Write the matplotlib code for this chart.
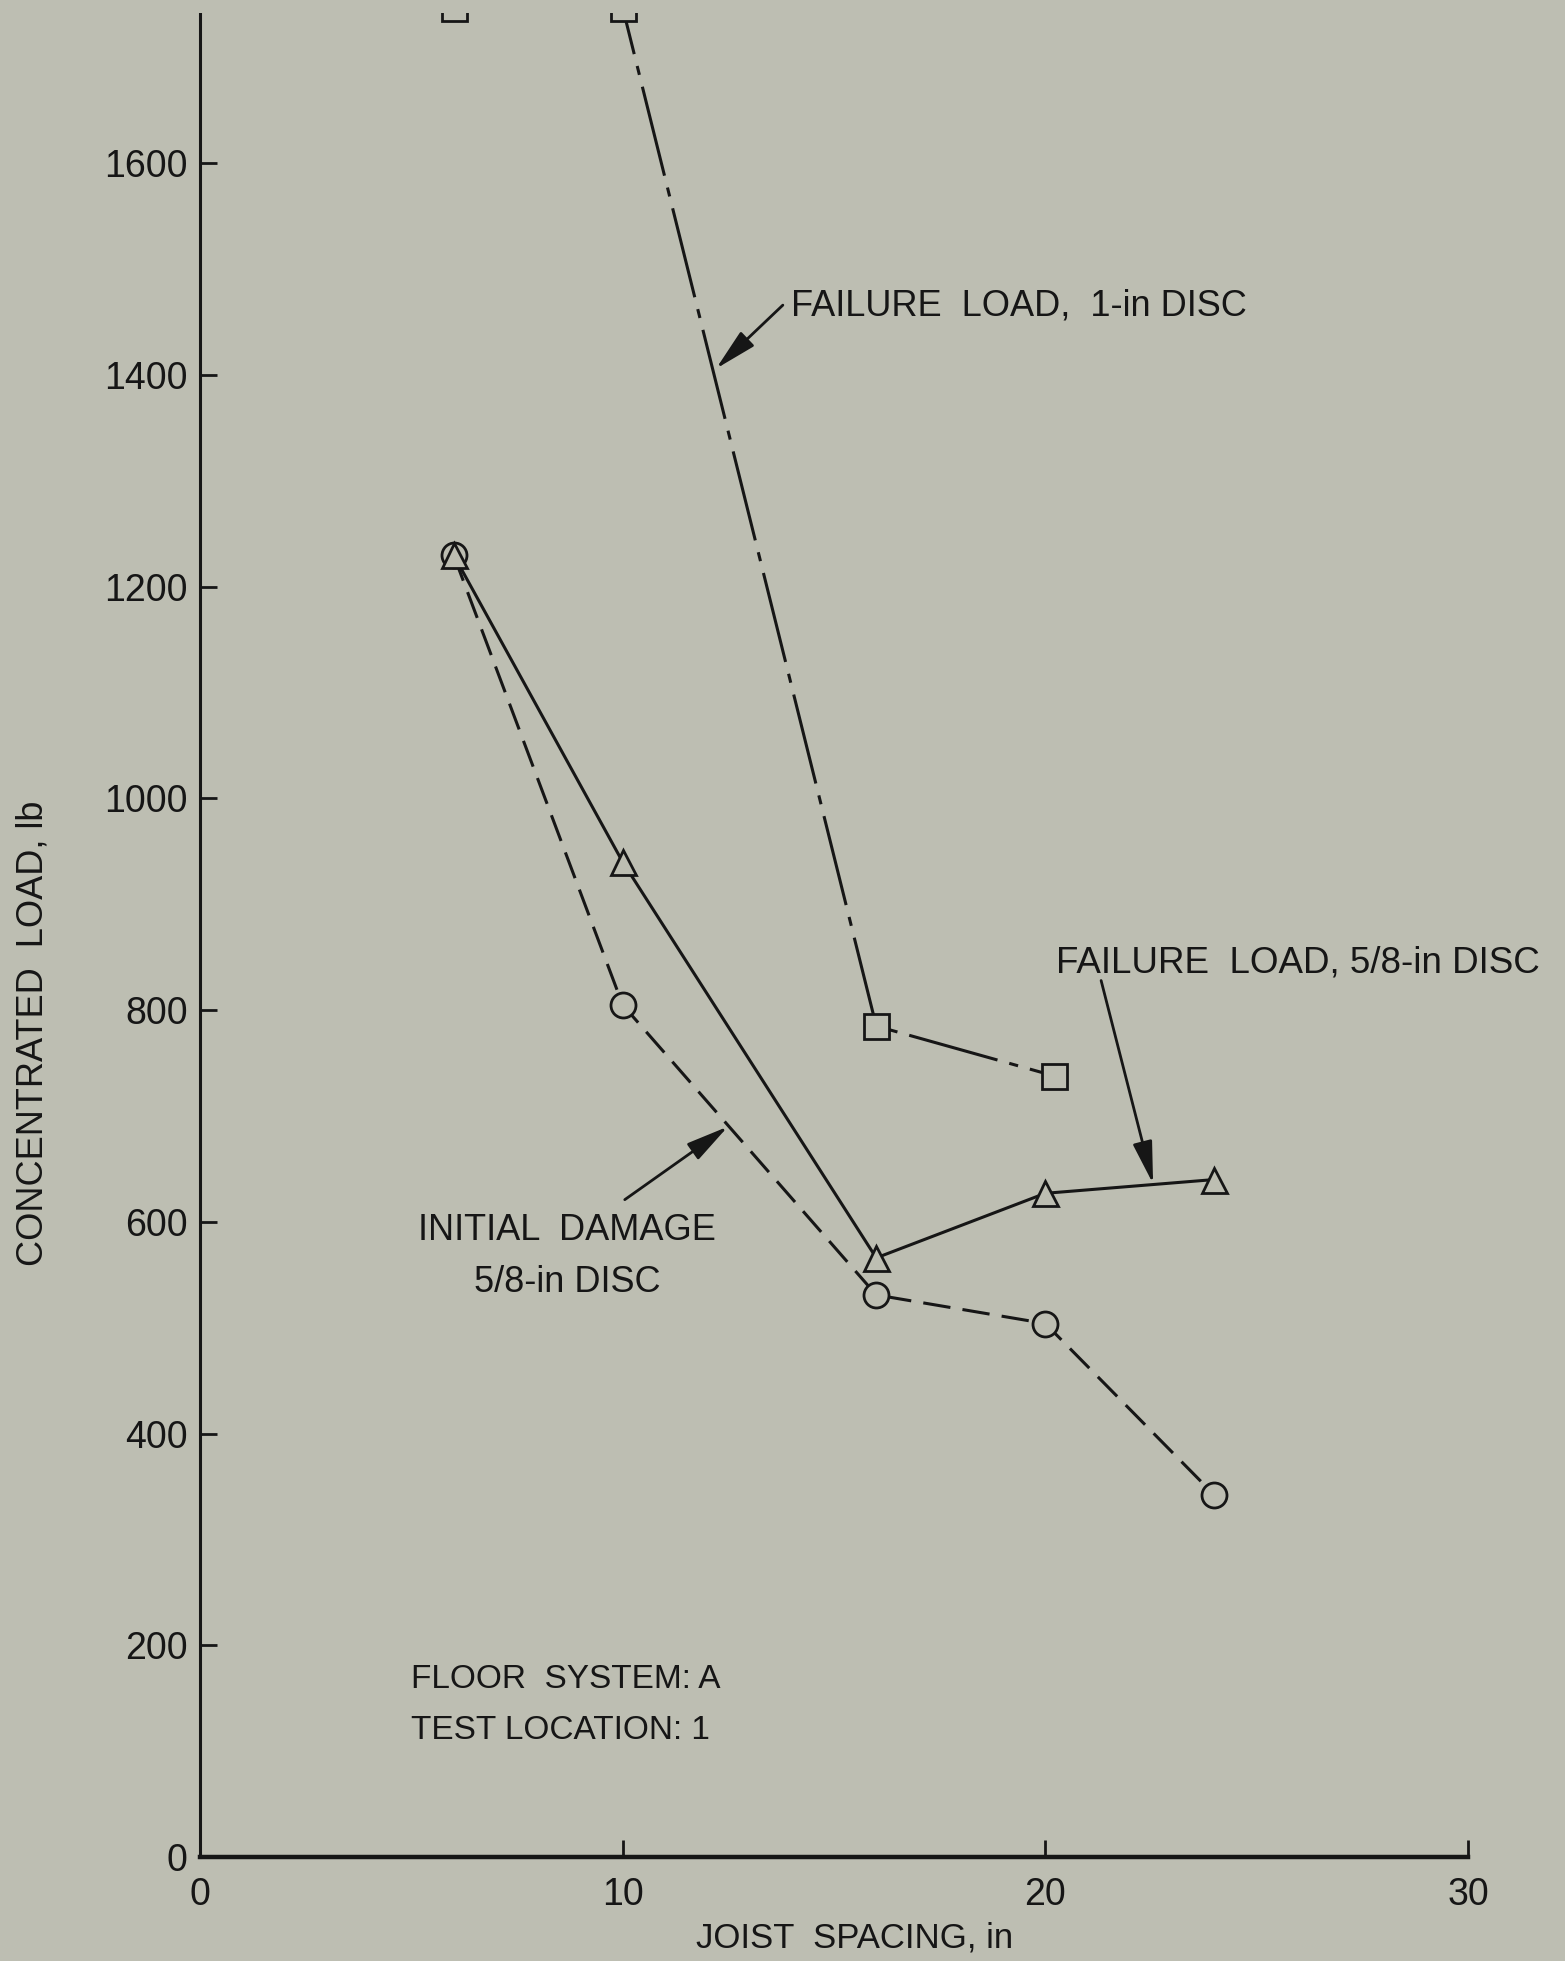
import matplotlib
matplotlib.use("Agg")
import matplotlib.pyplot as plt
from matplotlib.patches import Rectangle

# Data
# failure load, 1-in disc (first two points lie above the top of the plot)
x_fail1 = [6, 10, 16, 20.2]
y_fail1 = [1747, 1747, 785, 738]

# failure load, 5/8-in disc
x_fail58 = [6, 10, 16, 20, 24]
y_fail58 = [1230, 940, 566, 627, 640]

# initial damage, 5/8-in disc
x_init = [6, 10, 16, 20, 24]
y_init = [1230, 805, 531, 504, 342]

x_ticks = [0, 10, 20, 30]
y_ticks = [0, 200, 400, 600, 800, 1000, 1200, 1400, 1600]

bg = "#bdbeb2"
ink = "#161616"
plt.rcParams["font.family"] = ["Liberation Sans", "DejaVu Sans"]

fig = plt.figure(figsize=(15.65, 19.61), dpi=100, facecolor=bg)
ax = fig.add_axes([0.1278, 0.0530, 0.8102, 0.9404])
ax.set_facecolor(bg)

ax.set_xlim(0, 30)
ax.set_ylim(0, 1742)

lw = 2.2
mk = dict(markersize=18, markeredgewidth=2.0, markerfacecolor=bg,
          markeredgecolor=ink, color=ink, lw=lw)

ax.plot(x_fail1, y_fail1, marker="s", dashes=(30, 4, 3, 4), **mk)
ax.plot(x_init, y_init, marker="o", dashes=(9, 4), **mk)
ax.plot(x_fail58, y_fail58, marker="^", linestyle="-", **mk)

# the page is cut just above the axes: hide whatever sticks out there
fig.add_artist(Rectangle((0, 0.9934), 1, 0.0066, transform=fig.transFigure,
                         facecolor=bg, edgecolor="none", zorder=10))

# axes styling
for side in ["top", "right"]:
    ax.spines[side].set_visible(False)
ax.spines["left"].set_linewidth(2.2)
ax.spines["bottom"].set_linewidth(3.2)
ax.spines["left"].set_color(ink)
ax.spines["bottom"].set_color(ink)

ax.set_xticks(x_ticks)
ax.set_yticks(y_ticks)
ax.set_xticklabels([str(v) for v in x_ticks])
ax.set_yticklabels([str(v) for v in y_ticks])
ax.tick_params(axis="both", direction="in", length=12, width=2, colors=ink,
               labelsize=27)
ax.tick_params(axis="x", pad=14)
ax.tick_params(axis="y", pad=9)

fig.text(855 / 1565, 1 - 1938 / 1961, "JOIST  SPACING, in", fontsize=25,
         color=ink, ha="center", va="center")
fig.text(33 / 1565, 1 - 1033 / 1961, "CONCENTRATED  LOAD, lb", fontsize=26,
         color=ink, ha="center", va="center", rotation=90)

arrow = dict(arrowstyle="-|>,head_length=1.3,head_width=0.3", color=ink,
             lw=2, shrinkA=0, shrinkB=0, mutation_scale=20)

ax.annotate("", xy=(12.21, 1406), xytext=(13.79, 1466), arrowprops=arrow)
ax.text(13.98, 1456, "FAILURE  LOAD,  1-in DISC", fontsize=26, color=ink,
        ha="left", va="baseline")

ax.annotate("", xy=(22.55, 636), xytext=(21.32, 828), arrowprops=arrow)
ax.text(20.25, 836, "FAILURE  LOAD, 5/8-in DISC", fontsize=26.5, color=ink,
        ha="left", va="baseline")

ax.annotate("", xy=(12.49, 690), xytext=(10.05, 621), arrowprops=arrow)
ax.text(8.68, 583, "INITIAL  DAMAGE", fontsize=26, color=ink,
        ha="center", va="baseline")
ax.text(8.68, 534, "5/8-in DISC", fontsize=26, color=ink,
        ha="center", va="baseline")

ax.text(4.99, 160, "FLOOR  SYSTEM: A", fontsize=24, color=ink,
        ha="left", va="baseline")
ax.text(4.99, 112, "TEST LOCATION: 1", fontsize=24, color=ink,
        ha="left", va="baseline")

fig.savefig("out.png", dpi=100, facecolor=bg)
